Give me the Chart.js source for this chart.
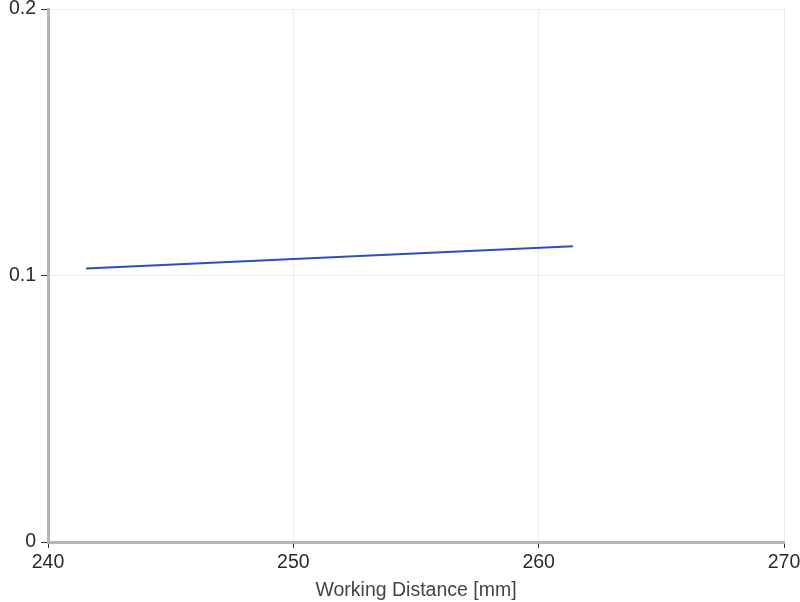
<!DOCTYPE html>
<html>
<head>
<meta charset="utf-8">
<script src="https://cdn.jsdelivr.net/npm/chart.js@4"></script>
<style>
  html, body { margin: 0; padding: 0; background: #ffffff; }
  #wrap { width: 800px; height: 602px; }
</style>
</head>
<body>
<div id="wrap"><canvas id="chart-wd"></canvas></div>
<script>
const distances = [241.55, 261.4];
const values = [0.1026, 0.111];
const xTicks = [240, 250, 260, 270];
const yTicks = [0, 0.1, 0.2];

const ctx = document.getElementById('chart-wd').getContext('2d');

new Chart(ctx, {
  type: 'line',
  data: {
    datasets: [{
      label: 'Value',
      data: distances.map((d, i) => ({ x: d, y: values[i] })),
      borderColor: '#2a50c2',
      borderWidth: 2,
      pointRadius: 0,
      tension: 0,
      fill: false
    }]
  },
  options: {
    responsive: true,
    maintainAspectRatio: false,
    animation: false,
    layout: { padding: { top: 9, right: 16, left: 0, bottom: 0 } },
    plugins: {
      legend: { display: false },
      tooltip: { enabled: false }
    },
    scales: {
      x: {
        type: 'linear',
        min: xTicks[0],
        max: xTicks[xTicks.length - 1],
        afterBuildTicks: (scale) => { scale.ticks = xTicks.map(v => ({ value: v })); },
        afterFit: (scale) => {
          scale.height = 60;
          scale.paddingLeft = 0;
          scale.paddingRight = 0;
        },
        border: { color: '#b4b4b4', width: 3 },
        grid: { color: '#ececec', tickColor: '#333333', tickLength: 6, lineWidth: 1 },
        ticks: { color: '#2a2a2a', font: { family: 'Liberation Sans', size: 19.5, lineHeight: 1 }, padding: 5 },
        title: {
          display: true,
          text: 'Working Distance [mm]',
          color: '#444444',
          font: { family: 'Liberation Sans', size: 19.5 },
          padding: { top: 4, bottom: 0 }
        }
      },
      y: {
        min: yTicks[0],
        max: yTicks[yTicks.length - 1],
        afterBuildTicks: (scale) => { scale.ticks = yTicks.map(v => ({ value: v })); },
        afterFit: (scale) => {
          scale.width = 48;
          scale.paddingTop = 0;
          scale.paddingBottom = 0;
        },
        border: { color: '#b4b4b4', width: 3 },
        grid: { color: '#ececec', tickColor: '#333333', tickLength: 7, lineWidth: 1 },
        ticks: { color: '#2a2a2a', font: { family: 'Liberation Sans', size: 19.5, lineHeight: 1 }, padding: 5 }
      }
    }
  }
});
</script>
</body>
</html>
